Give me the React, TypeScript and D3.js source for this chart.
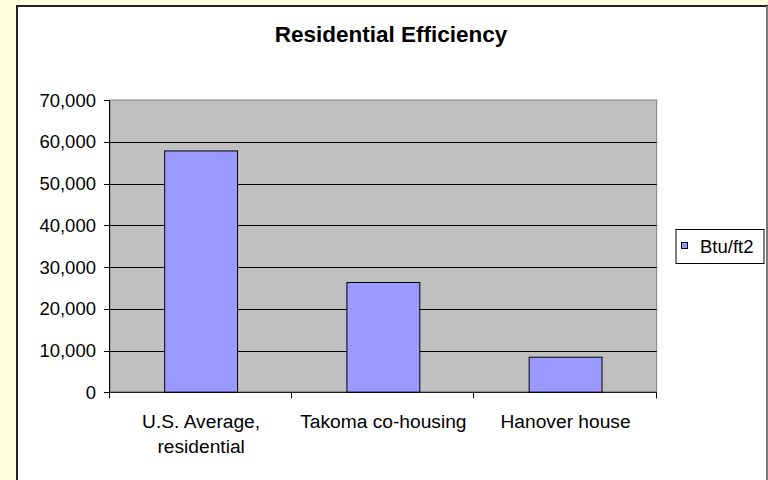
import React from "react";
import * as d3 from "d3";

const categories = ["U.S. Average, residential", "Takoma co-housing", "Hanover house"];
const categoryLines = [["U.S. Average,", "residential"], ["Takoma co-housing"], ["Hanover house"]];
const btuValues = [57800, 26300, 8400];
const yTicks = [0, 10000, 20000, 30000, 40000, 50000, 60000, 70000];
const seriesName = "Btu/ft2";
const title = "Residential Efficiency";

const W = 768;
const H = 480;
const plot = { left: 110, top: 100, right: 656.7, bottom: 392.3 };
const FONT = "'Liberation Sans', Arial, sans-serif";

export default function App() {
  const x = d3
    .scaleBand<string>()
    .domain(categories)
    .range([plot.left, plot.right])
    .paddingInner(0.6)
    .paddingOuter(0.3);
  const y = d3.scaleLinear().domain([0, 70000]).range([plot.bottom, plot.top]);
  const fmt = d3.format(",");
  const step = x.step();
  const boundaries = d3.range(categories.length + 1).map((i) => plot.left + i * step);

  return (
    <svg
      width={W}
      height={H}
      style={{ position: "absolute", left: 0, top: 0, fontFamily: FONT }}
    >
      <rect x={0} y={0} width={W} height={H} fill="#FFFFDD" />
      <rect x={17} y={6} width={750} height={480} fill="#FFFFFF" stroke="#222" strokeWidth={2} />
      <line x1={767} x2={767} y1={6} y2={H} stroke="#999" strokeWidth={1.5} />

      <text x={391} y={41.5} textAnchor="middle" fontSize={22.5} fontWeight="bold" fill="#000">
        {title}
      </text>

      <rect
        x={plot.left}
        y={plot.top}
        width={plot.right - plot.left}
        height={plot.bottom - plot.top}
        fill="#C0C0C0"
        stroke="#808080"
        strokeWidth={1}
      />

      {yTicks
        .filter((t) => t > 0 && t < 70000)
        .map((t) => (
          <line
            key={"g" + t}
            x1={plot.left}
            x2={plot.right}
            y1={Math.round(y(t)) + 0.5}
            y2={Math.round(y(t)) + 0.5}
            stroke="#000"
            strokeWidth={1}
          />
        ))}

      {categories.map((c, i) => (
        <rect
          key={c}
          x={x(c)}
          y={y(btuValues[i])}
          width={x.bandwidth()}
          height={y(0) - y(btuValues[i])}
          fill="#9999FF"
          stroke="#000"
          strokeWidth={1}
        />
      ))}

      <line x1={plot.left - 0.5} x2={plot.left - 0.5} y1={plot.top} y2={plot.bottom} stroke="#000" />
      <line x1={plot.left} x2={plot.right} y1={plot.bottom} y2={plot.bottom} stroke="#000" />

      {yTicks.map((t) => (
        <g key={"t" + t}>
          <line
            x1={plot.left - 6}
            x2={plot.left}
            y1={Math.round(y(t)) + 0.5}
            y2={Math.round(y(t)) + 0.5}
            stroke="#000"
          />
          <text x={96} y={y(t) + 6.5} textAnchor="end" fontSize={18.5} fill="#000">
            {fmt(t)}
          </text>
        </g>
      ))}

      {boundaries.map((b, i) => (
        <line
          key={"b" + i}
          x1={Math.round(b) - 0.5}
          x2={Math.round(b) - 0.5}
          y1={plot.bottom}
          y2={plot.bottom + 6}
          stroke="#000"
        />
      ))}

      {categories.map((c, i) => (
        <text
          key={"l" + c}
          x={(x(c) as number) + x.bandwidth() / 2}
          y={428}
          textAnchor="middle"
          fontSize={19.2}
          fill="#000"
        >
          {categoryLines[i].map((ln, j) => (
            <tspan key={j} x={(x(c) as number) + x.bandwidth() / 2} dy={j === 0 ? 0 : 25}>
              {ln}
            </tspan>
          ))}
        </text>
      ))}

      <rect x={676} y={229.5} width={88} height={34} fill="#FFFFFF" stroke="#000" strokeWidth={1} />
      <rect x={681.5} y={242.5} width={6} height={6} fill="#9999FF" stroke="#000" strokeWidth={1} />
      <text x={700} y={252.5} fontSize={18.5} fill="#000">
        {seriesName}
      </text>
    </svg>
  );
}
